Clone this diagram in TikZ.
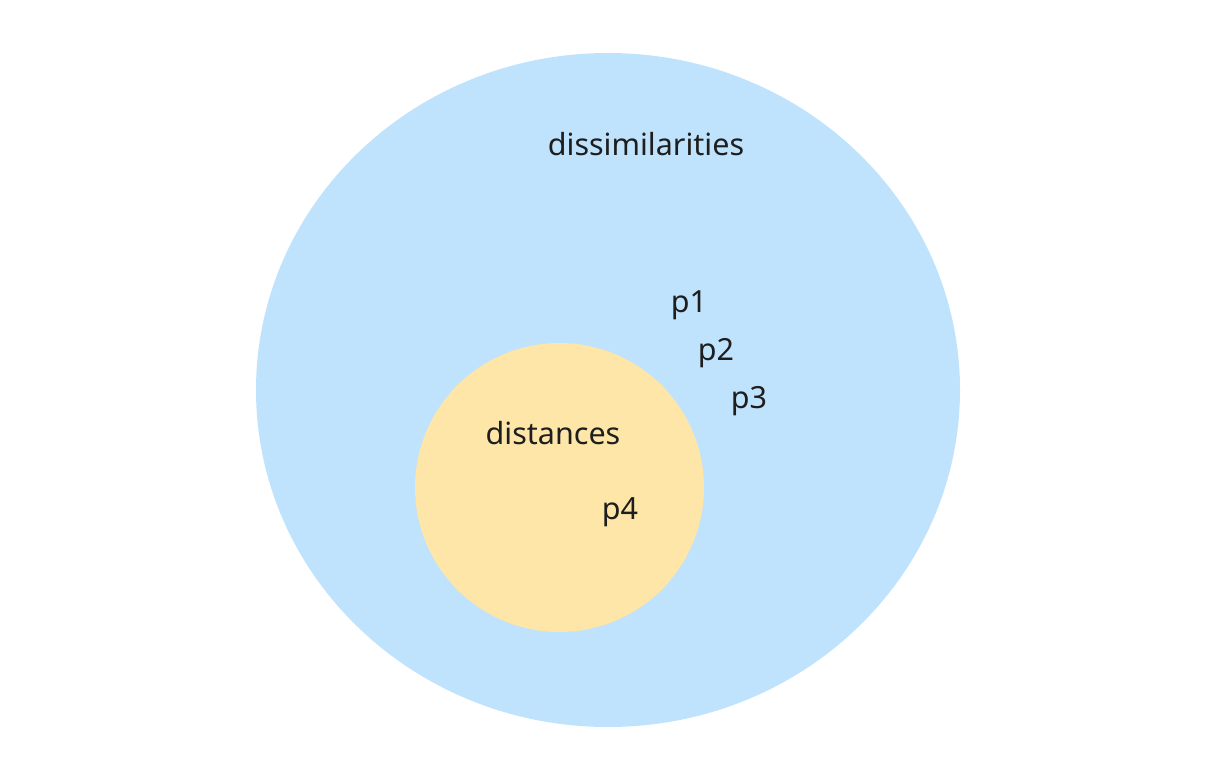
\documentclass[tikz,border=0pt]{standalone}
\usepackage{fontspec}
\setmainfont{Noto Sans}
\definecolor{bluefill}{HTML}{BFE3FD}
\definecolor{yellowfill}{HTML}{FDE6A7}
\definecolor{textcol}{HTML}{1E1E1E}
\begin{document}
\begin{tikzpicture}[x=1pt,y=-1pt,
  lbl/.style={text=textcol,font=\fontsize{30.5}{36}\selectfont,inner sep=0pt,anchor=base}]
\useasboundingbox (0,0) rectangle (1216,775);
\fill[bluefill] (608,390) ellipse [x radius=352, y radius=337];
\fill[yellowfill] (559.5,487.5) circle [radius=144.5];
\node[lbl] (dis) at (646,156) {dissimilarities};
\node[lbl] (p1) at (689,313) {p1};
\node[lbl] (p2) at (716,361) {p2};
\node[lbl] (p3) at (749,409) {p3};
\node[lbl] (dst) at (553,445) {distances};
\node[lbl] (p4) at (620,519) {p4};
\end{tikzpicture}
\end{document}
